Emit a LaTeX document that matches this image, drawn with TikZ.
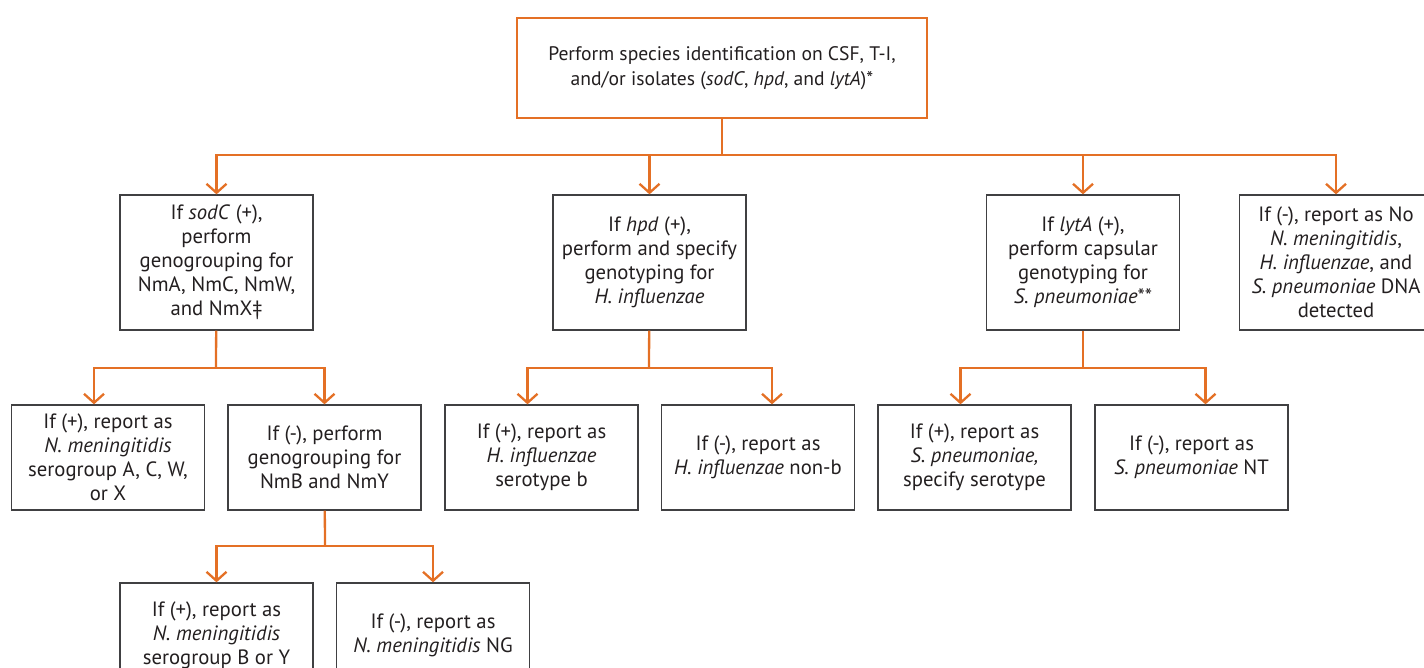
\documentclass[tikz,border=0pt]{standalone}
\usepackage{fontspec}
\setmainfont{PT Sans}
\usetikzlibrary{positioning,calc}
\usetikzlibrary{arrows.meta}
\definecolor{CdcOrange}{RGB}{228,112,37}
\definecolor{BoxGray}{RGB}{64,64,66}
\definecolor{InkGray}{RGB}{35,31,32}
\tikzset{
  link/.style={draw=CdcOrange,line width=2.3pt},
  tip/.style={-{Straight Barb[length=9pt,width=20pt]}},
  step2/.style={draw=BoxGray,line width=1.3pt,fill=white,inner sep=0pt,
    minimum width=193pt,minimum height=135pt,align=center,text=InkGray,
    font=\fontsize{20.7}{24}\selectfont},
  step3/.style={step2,minimum height=105pt},
}
\tikzset{topbox/.style={draw=CdcOrange,line width=2.6pt,fill=white,inner sep=0pt,
  minimum width=410pt,minimum height=100pt,align=center,text=InkGray,
  font=\fontsize{19.6}{25}\selectfont}}

\begin{document}
\begin{tikzpicture}[x=1pt,y=-1pt]
\useasboundingbox (0,0) rectangle (1424,668);
\coordinate (hub) at (722,155);
\coordinate (nsplit) at (216,368);
\coordinate (hsplit) at (649,368);
\coordinate (ssplit) at (1083,368);
\coordinate (bysplit) at (325,546);
\node[topbox] (top) at (722,68) {Perform species identification on CSF, T-I,\\and/or isolates (\textit{sodC}, \textit{hpd}, and \textit{lytA})*};
\node[step2] (sodc) at (216.5,262.5) {If \textit{sodC} (+),\\perform\\genogrouping for\\NmA, NmC, NmW,\\and NmX‡};
\node[step2] (hpd) at (649.5,262.5) {If \textit{hpd} (+),\\perform and specify\\genotyping for\\\textit{H. influenzae}};
\node[step2] (lyta) at (1083,262.5) {If \textit{lytA} (+),\\perform capsular\\genotyping for\\\textit{S. pneumoniae}**};
\node[step2] (neg) at (1336,262.5) {If (-), report as No\\\textit{N. meningitidis},\\\textit{H. influenzae}, and\\\textit{S. pneumoniae} DNA\\detected};
\node[step3] (acwx) at (108,457.5) {If (+), report as\\\textit{N. meningitidis}\\serogroup A, C, W,\\or X};
\node[step3] (nmby) at (324.5,457.5) {If (-), perform\\genogrouping for\\NmB and NmY};
\node[step3] (hib) at (541.5,457.5) {If (+), report as\\\textit{H. influenzae}\\serotype b};
\node[step3] (nonb) at (758,457.5) {If (-), report as\\\textit{H. influenzae} non-b};
\node[step3] (spnpos) at (974.5,457.5) {If (+), report as\\\textit{S. pneumoniae,}\\specify serotype};
\node[step3] (spnnt) at (1191.5,457.5) {If (-), report as\\\textit{S. pneumoniae} NT};
\node[step3] (bypos) at (216.5,635.5) {If (+), report as\\\textit{N. meningitidis}\\serogroup B or Y};
\node[step3] (nmng) at (433,635.5) {If (-), report as\\\textit{N. meningitidis} NG};
% first split
\draw[link] (top) -- (hub);
\draw[link,tip] (hub) -| (sodc);
\draw[link,tip] (hub) -| (hpd);
\draw[link,tip] (hub) -| (lyta);
\draw[link,tip] (hub) -| (neg);
% sodC branch
\draw[link] (sodc) -- (nsplit);
\draw[link,tip] (nsplit) -| ([xshift=-14pt]acwx.north);
\draw[link,tip] (nsplit) -| (nmby);
\draw[link] (nmby) -- (bysplit);
\draw[link,tip] (bysplit) -| (bypos);
\draw[link,tip] (bysplit) -| (nmng);
% hpd branch
\draw[link] (hpd) -- (hsplit);
\draw[link,tip] (hsplit) -| ([xshift=-14pt]hib.north);
\draw[link,tip] (hsplit) -| ([xshift=14pt]nonb.north);
% lytA branch
\draw[link] (lyta) -- (ssplit);
\draw[link,tip] (ssplit) -| ([xshift=-14pt]spnpos.north);
\draw[link,tip] (ssplit) -| ([xshift=14pt]spnnt.north);
\end{tikzpicture}
\end{document}
